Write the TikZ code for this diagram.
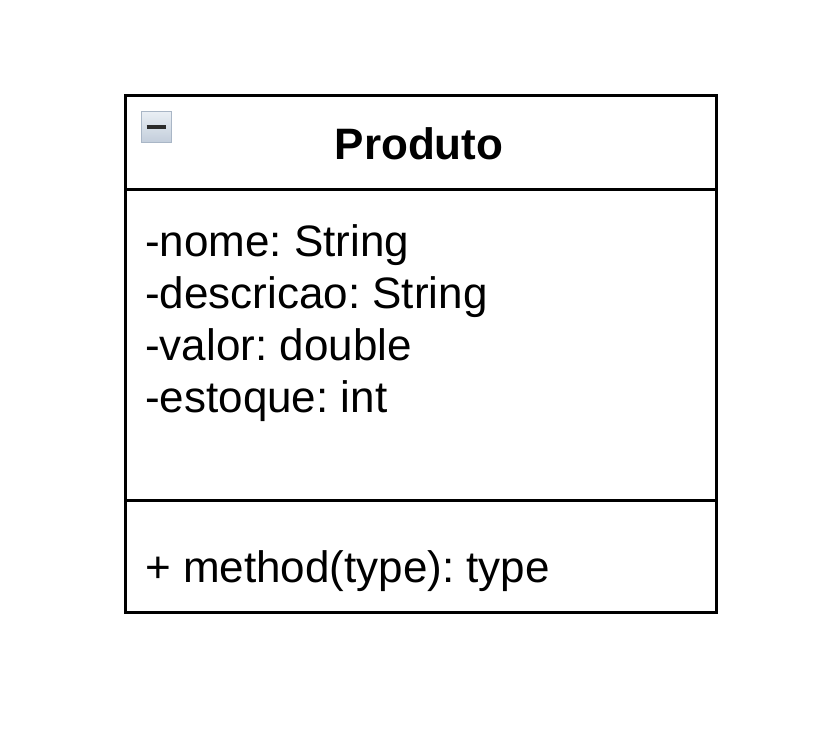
\documentclass[tikz,border=0pt]{standalone}
\usepackage{fontspec}
\setmainfont{Liberation Sans}
\usepackage{tikz}
\definecolor{iconedge}{HTML}{A9B6C6}
\definecolor{icontop}{HTML}{E9EEF4}
\definecolor{iconbot}{HTML}{C3CEDB}
\definecolor{iconbar}{HTML}{2B2B2B}
\frenchspacing

\begin{document}
\begin{tikzpicture}[x=1pt,y=-1pt,
font=\fontsize{44}{52}\selectfont,
classbox/.style={draw,line width=3pt,anchor=north west,inner sep=0pt,minimum width=591pt,minimum height=517pt},
rowline/.style={line width=3pt},
member/.style={anchor=base west,inner sep=0pt},
toggle/.style={draw=iconedge,line width=1pt,top color=icontop,bottom color=iconbot,minimum size=30pt,inner sep=0pt}]
\useasboundingbox (0,0) rectangle (828,752);
\node[classbox] (cls) at (124,94) {};
\coordinate (hdl) at (124,189);
\coordinate (hdr) at (715,189);
\coordinate (sepl) at (124,500);
\coordinate (sepr) at (715,500);
\draw[rowline] (hdl) -- (hdr);
\draw[rowline] (sepl) -- (sepr);
% header
\node[toggle] (tog) at (156,127) {\textcolor{iconbar}{\rule{19pt}{4pt}}};
\node[inner sep=0pt] (title) at (419,144) {\bfseries Produto};
% attributes
\node[member] (nome) at (145,256) {-nome: String};
\node[member] (desc) at (145,308) {-descricao: String};
\node[member] (valor) at (145,360) {-valor: double};
\node[member] (estq) at (145,412) {-estoque: int};
% methods
\node[member] (meth) at (145,582) {+ method(type): type};
\end{tikzpicture}
\end{document}
